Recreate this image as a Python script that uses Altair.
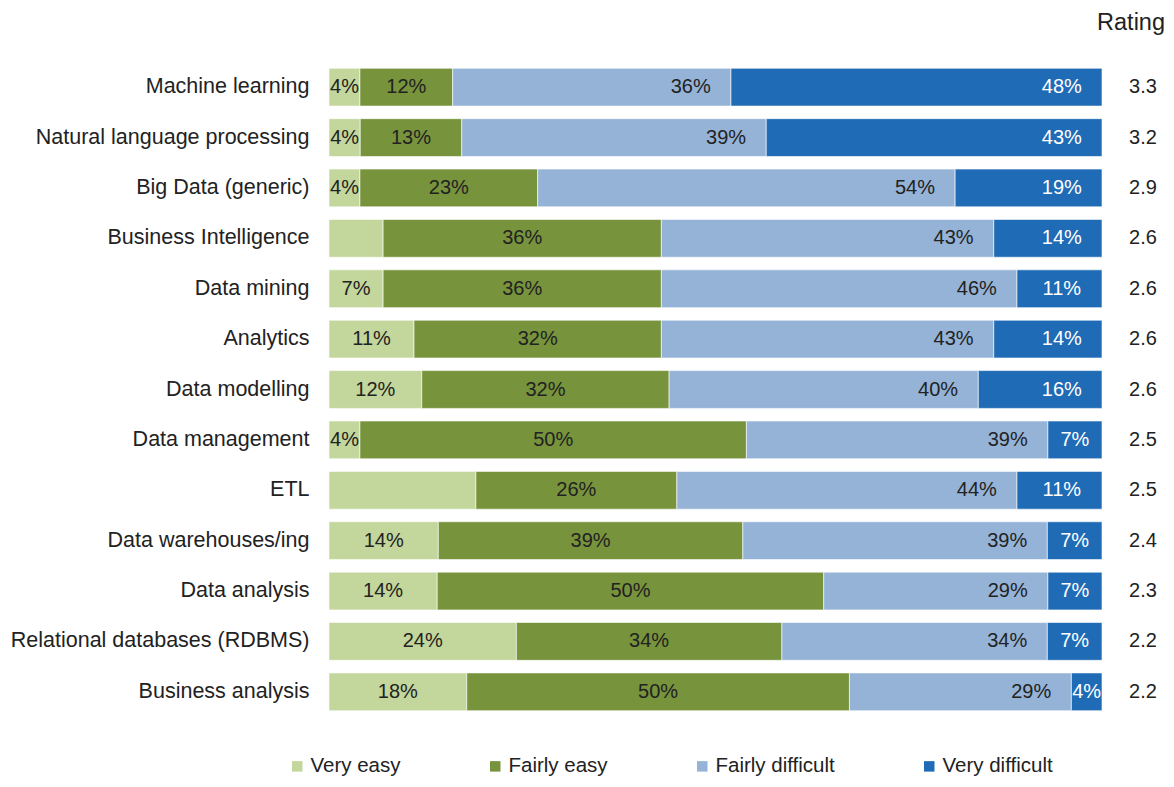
import altair as alt
import pandas as pd

tasks = ["Machine learning", "Natural language processing", "Big Data (generic)",
         "Business Intelligence", "Data mining", "Analytics", "Data modelling",
         "Data management", "ETL", "Data warehouses/ing", "Data analysis",
         "Relational databases (RDBMS)", "Business analysis"]
levels = ["Very easy", "Fairly easy", "Fairly difficult", "Very difficult"]
very_easy = [4, 4, 4, 7, 7, 11, 12, 4, 19, 14, 14, 24, 18]
fairly_easy = [12, 13, 23, 36, 36, 32, 32, 50, 26, 39, 50, 34, 50]
fairly_difficult = [36, 39, 54, 43, 46, 43, 40, 39, 44, 39, 29, 34, 29]
very_difficult = [48, 43, 19, 14, 11, 14, 16, 7, 11, 7, 7, 7, 4]
ratings = [3.3, 3.2, 2.9, 2.6, 2.6, 2.6, 2.6, 2.5, 2.5, 2.4, 2.3, 2.2, 2.2]
hidden_labels = [("Business Intelligence", "Very easy"), ("ETL", "Very easy")]
colors = ["#C3D69B", "#77933C", "#95B3D7", "#1F6BB5"]
rating_header = ["Rating"]

series = [very_easy, fairly_easy, fairly_difficult, very_difficult]
rows = []
for i, t in enumerate(tasks):
    for j, lev in enumerate(levels):
        v = series[j][i]
        rows.append({"task": t, "level": lev, "order": j, "value": v,
                     "label": "" if (t, lev) in hidden_labels else f"{v}%"})
df = pd.DataFrame(rows)
rdf = pd.DataFrame({"task": tasks, "rating": ratings})
hdf = pd.DataFrame({"h": rating_header})

FONT = "Liberation Sans"
W, H = 773, 655

yenc = alt.Y("task:N", sort=tasks,
             scale=alt.Scale(paddingInner=0.25, paddingOuter=0.125),
             axis=alt.Axis(title=None, domain=False, ticks=False, labelPadding=20,
                           labelFontSize=21.5, labelColor="#222222", labelFont=FONT,
                           labelLimit=400))

base = alt.Chart(df).transform_stack(
    stack="value", groupby=["task"], as_=["v0", "v1"],
    sort=[alt.SortField("order", order="ascending")], offset="normalize"
).transform_calculate(
    mid="(datum.v0 + datum.v1) / 2",
).transform_calculate(
    pos="datum.order >= 2 ? max(datum.mid, datum.v1 - 0.052) : datum.mid"
)

bars = base.mark_bar(stroke="white", strokeWidth=0.6).encode(
    y=yenc,
    x=alt.X("v0:Q", scale=alt.Scale(domain=[0, 1], nice=False), axis=None),
    x2="v1:Q",
    color=alt.Color("level:N", scale=alt.Scale(domain=levels, range=colors),
                    legend=alt.Legend(title=None, orient="none", direction="horizontal",
                                      columns=4, legendX=-42, legendY=694,
                                      symbolType="square", symbolSize=110,
                                      symbolStrokeWidth=0, labelFontSize=20.5,
                                      labelFont=FONT, labelColor="#222222",
                                      columnPadding=84, labelOffset=3, padding=0)),
)

labels = base.mark_text(fontSize=20, font=FONT, baseline="middle", align="center").encode(
    y=alt.Y("task:N", sort=tasks),
    x=alt.X("pos:Q"),
    text="label:N",
    color=alt.condition("datum.order == 3", alt.value("white"), alt.value("#222222")),
)

rating_text = alt.Chart(rdf).mark_text(fontSize=20, font=FONT, baseline="middle",
                                       align="center", color="#222222").encode(
    y=alt.Y("task:N", sort=tasks),
    x=alt.value(W + 41),
    text=alt.Text("rating:Q", format=".1f"),
)

header = alt.Chart(hdf).mark_text(fontSize=23.5, font=FONT, baseline="middle",
                                  align="right", color="#222222").encode(
    x=alt.value(W + 63),
    y=alt.value(-39),
    text="h:N",
)

chart = alt.layer(bars, labels, rating_text, header).properties(
    width=W, height=H,
    padding={"left": 321, "top": 54, "right": 64, "bottom": 62},
    autosize=alt.AutoSizeParams(type="none"),
    background="white",
).configure_view(strokeWidth=0)

chart.save("out.html", embed_options={"renderer": "svg", "actions": False})
